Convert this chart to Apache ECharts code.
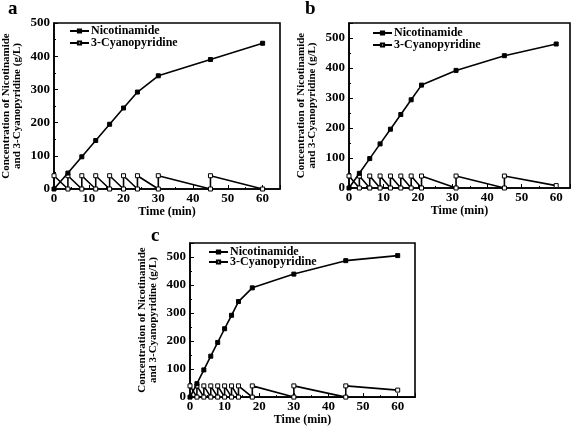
<!DOCTYPE html>
<html><head><meta charset="utf-8">
<script src="https://cdn.jsdelivr.net/npm/echarts@6/dist/echarts.min.js"></script>
<style>html,body{margin:0;padding:0;background:#fff}#c{width:576px;height:427px}</style>
</head><body><div id="c"></div>
<script>
// Panel a
const nicA = [[0,0],[4,48],[8,97],[12,146],[16,195],[20,244],[24,292],[30,341],[45,390],[60,439]];
const cyaA = [[0,40],[4,0],[4,40],[8,0],[8,40],[12,0],[12,40],[16,0],[16,40],[20,0],[20,40],[24,0],[24,40],[30,0],[30,40],[45,0],[45,40],[60,0]];
// Panel b
const nicB = [[0,0],[3,49],[6,98],[9,147],[12,196],[15,245],[18,294],[21,343],[31,392],[45,441],[60,480]];
const cyaB = [[0,40],[3,0],[3,40],[6,0],[6,40],[9,0],[9,40],[12,0],[12,40],[15,0],[15,40],[18,0],[18,40],[21,0],[21,40],[31,0],[31,40],[45,0],[45,40],[60,8]];
// Panel c
const nicC = [[0,0],[2,48],[4,97],[6,146],[8,195],[10,244],[12,292],[14,341],[18,390],[30,439],[45,487],[60,505]];
const cyaC = [[0,40],[2,0],[2,40],[4,0],[4,40],[6,0],[6,40],[8,0],[8,40],[10,0],[10,40],[12,0],[12,40],[14,0],[14,40],[18,0],[18,40],[30,0],[30,40],[45,0],[45,40],[60,25]];
const seriesNames = ['Nicotinamide','3-Cyanopyridine'];
const panelLabels = ['a','b','c'];
const xTitle = 'Time (min)';
const yTitle = 'Concentration of Nicotinamide\nand 3-Cyanopyridine (g/L)';

const FONT = '"Liberation Serif", "Times New Roman", serif';
const grids = [
  {left:48, top:23, width:232, height:166},
  {left:349, top:23, width:221, height:165},
  {left:190, top:243, width:225, height:158}
];
const xMax = [65, 64, 65];
const yMax = [500, 550, 550];
const nic = [nicA, nicB, nicC];
const cya = [cyaA, cyaB, cyaC];

const option = {
  animation:false,
  backgroundColor:'#fff',
  textStyle:{fontFamily:FONT},
  grid: grids.map(g => Object.assign({show:true, borderColor:'#000', borderWidth:1.6, backgroundColor:'transparent', containLabel:false}, g)),
  xAxis: grids.map((g,i) => ({
    type:'value', gridIndex:i, min:0, max:xMax[i], interval:10,
    name:xTitle, nameLocation:'middle', nameGap:16,
    nameTextStyle:{fontFamily:FONT, fontWeight:'bold', fontSize:12, color:'#000'},
    axisLine:{show:true, onZero:false, lineStyle:{color:'#000', width:1.6}},
    axisTick:{show:true, inside:true, length:4, lineStyle:{color:'#000', width:1}},
    minorTick:{show:true, splitNumber:2, length:2, lineStyle:{color:'#000', width:1}},
    axisLabel:{fontFamily:FONT, fontWeight:'bold', fontSize:13, color:'#000', margin:3, showMaxLabel:false,
      formatter: v => (v % 10 === 0 && v <= 60) ? String(v) : ''},
    splitLine:{show:false}
  })),
  yAxis: grids.map((g,i) => ({
    type:'value', gridIndex:i, min:0, max:yMax[i], interval:100,
    name:yTitle, nameLocation:'middle', nameGap:31, nameRotate:90,
    nameTextStyle:{fontFamily:FONT, fontWeight:'bold', fontSize:11, color:'#000', lineHeight:11},
    axisLine:{show:true, onZero:false, lineStyle:{color:'#000', width:1.6}},
    axisTick:{show:true, inside:true, length:4, lineStyle:{color:'#000', width:1}},
    minorTick:{show:true, splitNumber:2, length:2, lineStyle:{color:'#000', width:1}},
    axisLabel:{fontFamily:FONT, fontWeight:'bold', fontSize:13, color:'#000', margin:4,
      formatter: v => (v % 100 === 0 && v <= 500) ? String(v) : ''},
    splitLine:{show:false}
  })),
  legend: [
    {left:69, top:25, itemGap:0},
    {left:372, top:27, itemGap:0},
    {left:208, top:246, itemGap:-2}
  ].map((l,i) => Object.assign({
    orient:'vertical', itemWidth:19, itemHeight:4,
    data: seriesNames.map(n => ({name:n+'\u200b'.repeat(i)})),
    textStyle:{fontFamily:FONT, fontWeight:'bold', fontSize:12, color:'#000', padding:[0,0,0,-3], lineHeight:11},
    padding:0
  }, l)),
  title: panelLabels.map((t,i) => ({
    text:t, left:[8,305,151][i], top:[0,0,227][i],
    textStyle:{fontFamily:FONT, fontWeight:'bold', fontSize:19, color:'#000'}, padding:0
  })),
  series: []
};
for (let i=0;i<3;i++){
  option.series.push({
    name:seriesNames[1]+'\u200b'.repeat(i), type:'line', xAxisIndex:i, yAxisIndex:i, data:cya[i],
    symbol:'rect', symbolSize:4, showAllSymbol:true,
    lineStyle:{color:'#000', width:1.6},
    itemStyle:{color:'#fff', borderColor:'#000', borderWidth:1},
    z:2
  });
  option.series.push({
    name:seriesNames[0]+'\u200b'.repeat(i), type:'line', xAxisIndex:i, yAxisIndex:i, data:nic[i],
    symbol:'rect', symbolSize:4, showAllSymbol:true,
    lineStyle:{color:'#000', width:1.6},
    itemStyle:{color:'#000', borderColor:'#000', borderWidth:1},
    z:3
  });
}
const chart = echarts.init(document.getElementById('c'), null, {renderer:'canvas'});
chart.setOption(option);
</script></body></html>
